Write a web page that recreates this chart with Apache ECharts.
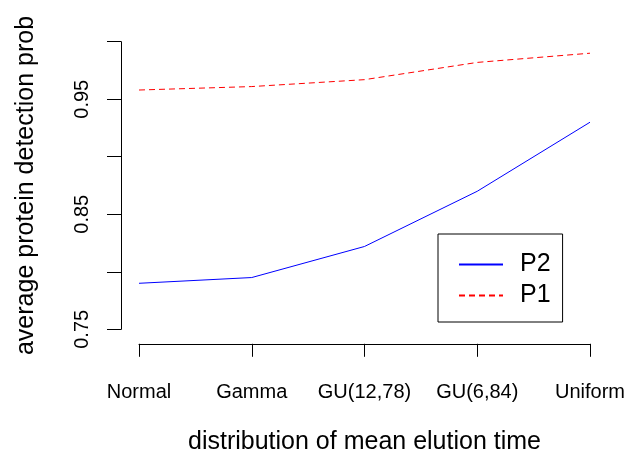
<!DOCTYPE html>
<html>
<head>
<meta charset="utf-8">
<script src="https://cdn.jsdelivr.net/npm/echarts@6/dist/echarts.min.js"></script>
<style>
  html, body { margin: 0; padding: 0; background: #fff; }
  #chart { width: 626px; height: 459px; }
</style>
</head>
<body>
<div id="chart"></div>
<script>
// Distributions of mean elution time (x categories)
var categories = ['Normal', 'Gamma', 'GU(12,78)', 'GU(6,84)', 'Uniform'];
// Average protein detection probability per method
var p2Values = [0.790, 0.795, 0.822, 0.870, 0.930];
var p1Values = [0.958, 0.961, 0.967, 0.982, 0.990];
// Y tick labels that are printed (others are left blank)
var yTickLabels = ['0.75', '0.85', '0.95'];
var yMin = 0.75, yMax = 1.0, yStep = 0.05;

var FONT = '"Liberation Sans", Arial, sans-serif';
var chart = echarts.init(document.getElementById('chart'), null, { renderer: 'canvas' });

chart.setOption({
  animation: false,
  backgroundColor: '#ffffff',
  grid: {
    left: 139, right: 36, top: 41.7, bottom: 129.7,
    containLabel: false,
    outerBoundsMode: 'none'
  },
  xAxis: {
    type: 'category',
    data: categories,
    boundaryGap: false,
    offset: 14.5,
    axisLine: { show: true, lineStyle: { color: '#000', width: 1 } },
    axisTick: { show: true, inside: false, length: 13, alignWithLabel: true, lineStyle: { color: '#000' } },
    axisLabel: { margin: 39, color: '#000', fontFamily: FONT, fontSize: 20, interval: 0 },
    splitLine: { show: false },
    name: 'distribution of mean elution time',
    nameLocation: 'middle',
    nameGap: 86,
    nameTextStyle: { color: '#000', fontFamily: FONT, fontSize: 25 }
  },
  yAxis: {
    type: 'value',
    min: yMin,
    max: yMax,
    interval: yStep,
    offset: 18,
    axisLine: { show: true, lineStyle: { color: '#000', width: 1 } },
    axisTick: { show: true, inside: false, length: 14, lineStyle: { color: '#000' } },
    axisLabel: {
      rotate: 90,
      margin: 29,
      color: '#000',
      fontFamily: FONT,
      fontSize: 20,
      formatter: function (v) {
        var s = v.toFixed(2);
        return yTickLabels.indexOf(s) >= 0 ? s : '';
      }
    },
    splitLine: { show: false },
    name: 'average protein detection prob',
    nameLocation: 'middle',
    nameRotate: 90,
    nameGap: 82,
    nameTextStyle: { color: '#000', fontFamily: FONT, fontSize: 25 }
  },
  legend: {
    show: true,
    orient: 'vertical',
    left: 438,
    top: 234,
    padding: [18, 12, 14, 20],
    borderColor: '#000',
    borderWidth: 1,
    itemWidth: 44,
    itemHeight: 14,
    itemGap: 6,
    data: ['P2', 'P1'],
    itemStyle: { opacity: 0 },
    textStyle: { color: '#000', fontFamily: FONT, fontSize: 25, lineHeight: 24, padding: [0, 0, 0, 12] }
  },
  series: [
    {
      name: 'P2',
      type: 'line',
      data: p2Values,
      symbol: 'none',
      lineStyle: { color: '#0000ff', width: 1, type: 'solid' },
      itemStyle: { color: '#0000ff' }
    },
    {
      name: 'P1',
      type: 'line',
      data: p1Values,
      symbol: 'none',
      lineStyle: { color: '#ff0000', width: 1, type: [6, 4] },
      itemStyle: { color: '#ff0000' }
    }
  ]
});
</script>
</body>
</html>
